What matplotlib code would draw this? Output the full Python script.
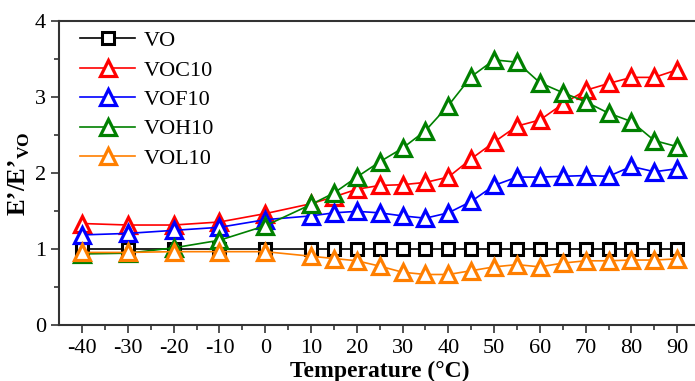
import matplotlib
matplotlib.use("Agg")
import matplotlib.pyplot as plt

# temperature points (°C)
temps = [-40, -30, -20, -10, 0, 10, 15, 20, 25, 30, 35, 40, 45, 50, 55, 60, 65, 70, 75, 80, 85, 90]

# storage modulus ratio E'/E'_VO
vo = [1.0] * len(temps)
voc10 = [1.34, 1.32, 1.32, 1.36, 1.47, 1.60, 1.69, 1.79, 1.84, 1.85, 1.88, 1.95, 2.19, 2.41,
         2.62, 2.70, 2.91, 3.09, 3.18, 3.26, 3.26, 3.36]
vof10 = [1.19, 1.21, 1.25, 1.29, 1.39, 1.44, 1.48, 1.50, 1.48, 1.44, 1.41, 1.48, 1.63, 1.84,
         1.95, 1.95, 1.96, 1.97, 1.96, 2.09, 2.02, 2.06]
voh10 = [0.94, 0.95, 1.02, 1.12, 1.31, 1.59, 1.74, 1.95, 2.15, 2.33, 2.56, 2.89, 3.27, 3.49,
         3.46, 3.19, 3.06, 2.94, 2.79, 2.68, 2.43, 2.35]
vol10 = [0.96, 0.96, 0.97, 0.97, 0.97, 0.91, 0.88, 0.85, 0.78, 0.70, 0.67, 0.67, 0.72, 0.77,
         0.80, 0.77, 0.82, 0.85, 0.85, 0.86, 0.86, 0.875]

names = ["VO", "VOC10", "VOF10", "VOH10", "VOL10"]
colors = ["black", "#ff0000", "#0000ff", "#008000", "#ff7f00"]

plt.rcParams["font.family"] = ["Liberation Serif", "DejaVu Serif"]
plt.rcParams["axes.unicode_minus"] = False
plt.rcParams["mathtext.fontset"] = "custom"
plt.rcParams["mathtext.rm"] = "Liberation Serif"
plt.rcParams["mathtext.bf"] = "Liberation Serif:bold"

fig = plt.figure(figsize=(6.95, 3.81), dpi=100)
ax = fig.add_axes([0.0853, 0.1457, 0.922, 0.799])

for name, ys, c in zip(names, [vo, voc10, vof10, voh10, vol10], colors):
    if name == "VO":
        ax.plot(temps, ys, color=c, lw=1.2, marker="s", ms=8, mew=2.2,
                mfc="white", mec=c, label=name)
    else:
        ax.plot(temps, ys, color=c, lw=1.2, marker="^", ms=11.5, mew=2.3,
                mfc="white", mec=c, label=name)

ax.set_xlim(-45, 95)
ax.set_ylim(0, 4)
ax.set_xticks(range(-40, 91, 10))
ax.set_xticks(range(-35, 95, 10), minor=True)
ax.set_yticks([0, 1, 2, 3, 4])
ax.set_yticks([0.5, 1.5, 2.5, 3.5], minor=True)
ax.tick_params(which="major", direction="out", length=6, width=1.2, labelsize=16, color="#333333")
ax.tick_params(which="minor", direction="out", length=3.5, width=1.2, color="#333333")
for s in ax.spines.values():
    s.set_linewidth(1.5)
    s.set_color("#333333")

ax.set_xlabel("Temperature (°C)", fontsize=17, fontweight="bold", labelpad=2)
ax.set_ylabel("E’/E’$_\\mathbf{VO}$", fontsize=18, fontweight="bold", labelpad=2)

ax.legend(loc="upper left", bbox_to_anchor=(0.032, 0.969), frameon=False, fontsize=16,
          handlelength=2.5, labelspacing=0.4, borderaxespad=0, borderpad=0,
          handletextpad=0.4)

fig.savefig("out.png", dpi=100)
